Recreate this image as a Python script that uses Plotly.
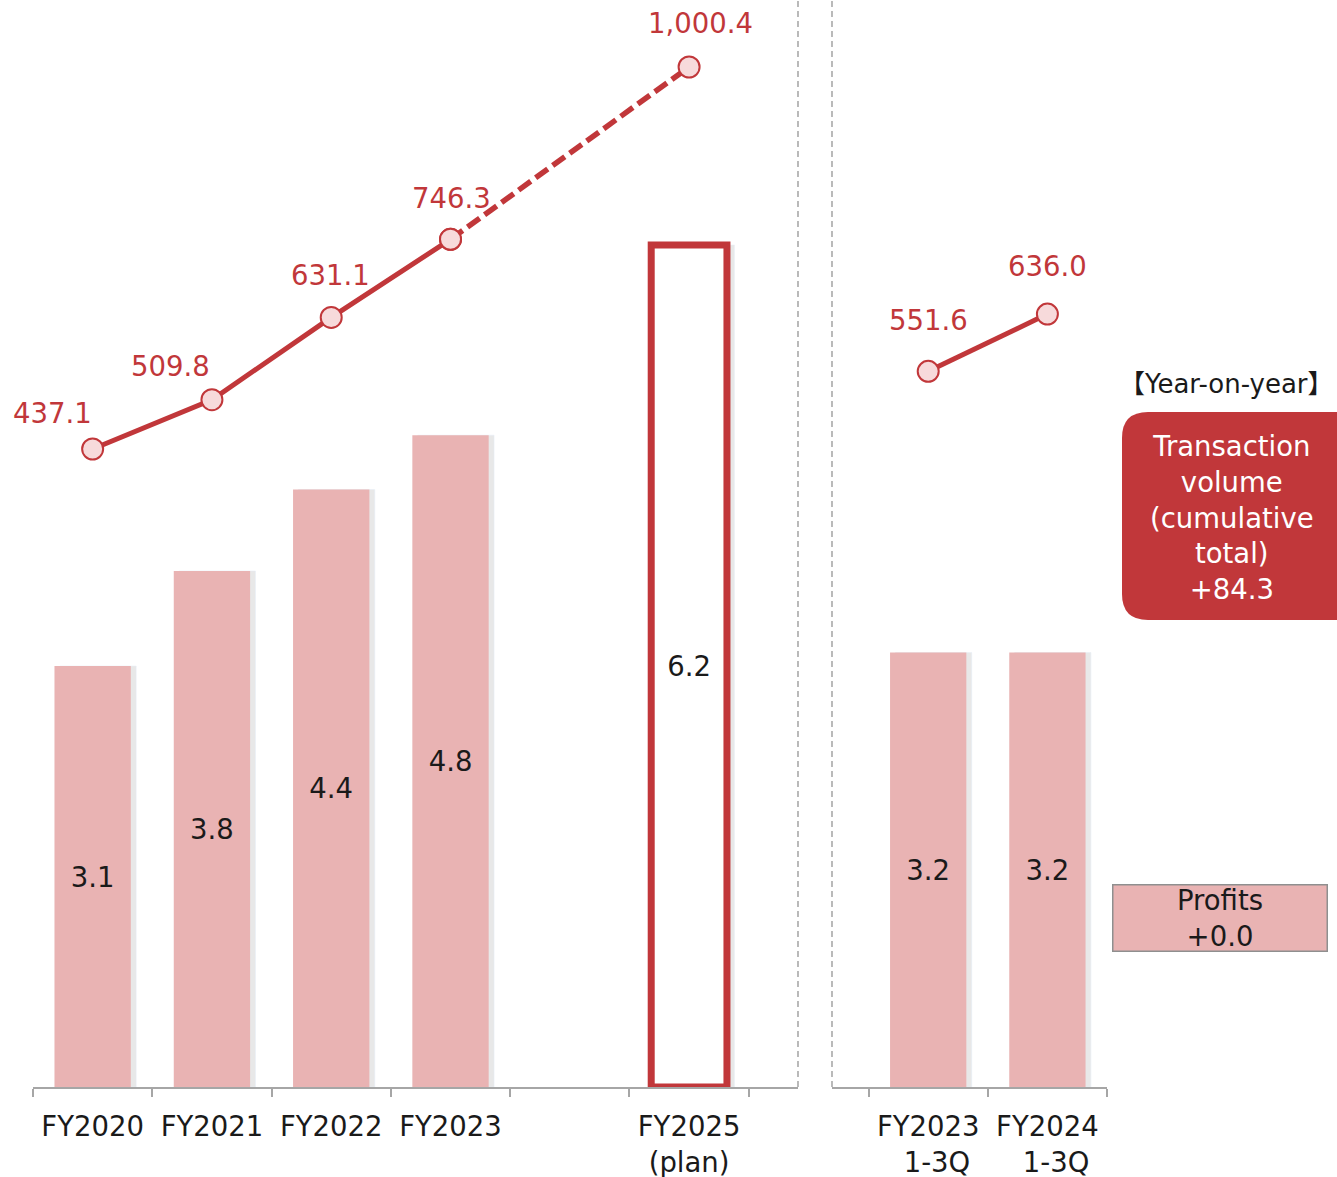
import plotly.graph_objects as go

# ---- data -------------------------------------------------------------
fiscal_years = ["FY2020", "FY2021", "FY2022", "FY2023"]
profits = [3.1, 3.8, 4.4, 4.8]
volume = [437.1, 509.8, 631.1, 746.3]

gap_label = " "
plan_label = "FY2025<br>(plan)"
plan_profit = [6.2]
plan_volume = [1000.4]

quarter_labels = ["FY2023<br>&nbsp;&nbsp;1-3Q", "FY2024<br>&nbsp;&nbsp;1-3Q"]
quarter_profits = [3.2, 3.2]
quarter_volume = [551.6, 636.0]

yoy_title = "【Year-on-year】"
yoy_volume_text = "Transaction<br>volume<br>(cumulative<br>total)<br>+84.3"
yoy_profit_text = "Profits<br>+0.0"

# ---- style ------------------------------------------------------------
W, H = 1337, 1177
PLOT_BOTTOM = 1087
RED = "#C1373A"
PINK = "#E9B3B3"
MARKER_FILL = "#F7DADB"
TEXT = "#1a1a1a"
AXIS = "#a6a6a6"
FONT = "DejaVu Sans, Noto Sans CJK JP, sans-serif"
FS = 27.5
BAR_W = 0.64

left_cats = fiscal_years + [gap_label, plan_label]


def px(x):
    return x / W


def py(y):
    return 1 - y / PLOT_BOTTOM


fig = go.Figure()

# soft shadows behind the bars
shadow = dict(color="rgba(0,0,0,0.09)")
fig.add_bar(x=fiscal_years, y=profits, xaxis="x", yaxis="y", width=BAR_W,
            offset=-BAR_W / 2 + 0.045, marker=shadow, hoverinfo="skip")
fig.add_bar(x=[plan_label], y=plan_profit, xaxis="x", yaxis="y", width=BAR_W,
            offset=-BAR_W / 2 + 0.06, marker=shadow, hoverinfo="skip")
fig.add_bar(x=quarter_labels, y=quarter_profits, xaxis="x2", yaxis="y", width=BAR_W,
            offset=-BAR_W / 2 + 0.045, marker=shadow, hoverinfo="skip")

bar_text = dict(texttemplate="%{y:.1f}", textposition="inside",
                insidetextanchor="middle", textangle=0, constraintext="none",
                textfont=dict(size=FS, color=TEXT, family=FONT))

# profit bars (actuals)
fig.add_bar(x=fiscal_years, y=profits, xaxis="x", yaxis="y", width=BAR_W,
            marker=dict(color=PINK, line=dict(width=0)), **bar_text)
# placeholder slot keeps the empty column on the axis
fig.add_bar(x=[gap_label], y=[None], xaxis="x", yaxis="y", width=BAR_W,
            hoverinfo="skip", showlegend=False)
# plan bar
fig.add_bar(x=[plan_label], y=plan_profit, xaxis="x", yaxis="y", width=BAR_W - 0.005,
            marker=dict(color="white", line=dict(color=RED, width=7)), **bar_text)
# quarterly bars
fig.add_bar(x=quarter_labels, y=quarter_profits, xaxis="x2", yaxis="y", width=BAR_W,
            marker=dict(color=PINK, line=dict(width=0)), **bar_text)

marker_style = dict(symbol="circle", size=21, color=MARKER_FILL,
                    line=dict(color=RED, width=2))

# transaction volume line: plan segment dashed
fig.add_scatter(x=[fiscal_years[-1], plan_label], y=[volume[-1], plan_volume[0]],
                xaxis="x", yaxis="y2", mode="lines+markers",
                line=dict(color=RED, width=5.5, dash="15px,6px"),
                marker=marker_style, hoverinfo="skip")
fig.add_scatter(x=fiscal_years, y=volume, xaxis="x", yaxis="y2",
                mode="lines+markers", line=dict(color=RED, width=5),
                marker=marker_style)
fig.add_scatter(x=quarter_labels, y=quarter_volume, xaxis="x2", yaxis="y2",
                mode="lines+markers", line=dict(color=RED, width=5),
                marker=marker_style)

# value labels for the line points
label_offsets = [(-40, 36), (-41, 34), (-1, 42), (1, 41)]
annotations = []
for cat, v, (dx, dy) in zip(fiscal_years, volume, label_offsets):
    annotations.append(dict(x=cat, y=v, xref="x", yref="y2", text=f"{v:,.1f}",
                            xshift=dx, yshift=dy, showarrow=False,
                            font=dict(size=FS, color=RED, family=FONT)))
annotations.append(dict(x=plan_label, y=plan_volume[0], xref="x", yref="y2",
                        text=f"{plan_volume[0]:,.1f}", xshift=11, yshift=44,
                        showarrow=False, font=dict(size=FS, color=RED, family=FONT)))
for cat, v, dy in zip(quarter_labels, quarter_volume, [51, 48]):
    annotations.append(dict(x=cat, y=v, xref="x2", yref="y2", text=f"{v:,.1f}",
                            yshift=dy, showarrow=False,
                            font=dict(size=FS, color=RED, family=FONT)))

# year-on-year panel
centered = dict(xref="paper", yref="paper", xanchor="center", yanchor="middle",
                showarrow=False)
annotations.append(dict(x=px(1226), y=py(384), text=yoy_title, borderpad=0,
                        font=dict(size=FS - 1.5, color=TEXT, family=FONT), **centered))
annotations.append(dict(x=px(1232), y=py(517), text=yoy_volume_text,
                        font=dict(size=FS, color="white", family=FONT), **centered))
annotations.append(dict(x=px(1219.5), y=py(917.5), text=yoy_profit_text,
                        width=213, height=65, bgcolor=PINK, bordercolor="#8f8f8f",
                        borderwidth=1.5, borderpad=0,
                        font=dict(size=FS, color=TEXT, family=FONT), **centered))


def rounded_rect(x0, y0, x1, y1, r):
    X0, X1 = px(x0), px(x1)
    Y0, Y1 = py(y0), py(y1)
    rx, ry = r / W, r / PLOT_BOTTOM
    return (f"M {X0 + rx},{Y0} L {X1 - rx},{Y0} Q {X1},{Y0} {X1},{Y0 - ry} "
            f"L {X1},{Y1 + ry} Q {X1},{Y1} {X1 - rx},{Y1} "
            f"L {X0 + rx},{Y1} Q {X0},{Y1} {X0},{Y1 + ry} "
            f"L {X0},{Y0 - ry} Q {X0},{Y0} {X0 + rx},{Y0} Z")


shapes = [
    dict(type="path", xref="paper", yref="paper",
         path=rounded_rect(1122, 412, 1360, 620, 26),
         fillcolor=RED, line=dict(width=0), layer="below"),
    dict(type="line", xref="x domain", yref="paper", x0=1, x1=1, y0=0, y1=1,
         line=dict(color="#8c8c8c", width=1.2, dash="6px,4px")),
    dict(type="line", xref="x2 domain", yref="paper", x0=0, x1=0, y0=0, y1=1,
         line=dict(color="#8c8c8c", width=1.2, dash="6px,4px")),
]

xaxis_common = dict(type="category", tickson="boundaries", ticks="outside",
                    ticklen=8, tickcolor=AXIS, tickwidth=1.5, showline=True,
                    linecolor=AXIS, linewidth=1.5, showgrid=False, zeroline=False,
                    tickfont=dict(size=FS, color=TEXT, family=FONT),
                    ticklabelstandoff=14, fixedrange=True)

fig.update_layout(
    width=W, height=H,
    margin=dict(l=0, r=0, t=0, b=H - PLOT_BOTTOM),
    paper_bgcolor="white", plot_bgcolor="white",
    showlegend=False, barmode="overlay",
    font=dict(family=FONT, size=FS, color=TEXT),
    xaxis=dict(domain=[px(33), px(798)], range=[-0.5, 5.913],
               categoryorder="array", categoryarray=left_cats, anchor="y",
               **xaxis_common),
    xaxis2=dict(domain=[px(832), px(1107)], range=[-0.807, 1.5],
                categoryorder="array", categoryarray=quarter_labels, anchor="y",
                **xaxis_common),
    yaxis=dict(range=[0, PLOT_BOTTOM / 135.8], visible=False, fixedrange=True),
    yaxis2=dict(range=[-503.7, 1099.2], overlaying="y", visible=False,
                fixedrange=True),
    annotations=annotations,
    shapes=shapes,
)

fig.write_html("out.html")
